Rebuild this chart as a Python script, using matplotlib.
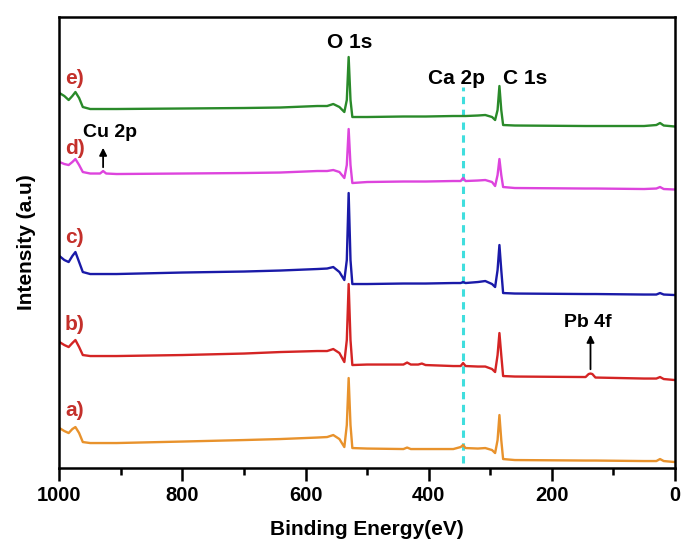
import matplotlib
matplotlib.use("Agg")
import matplotlib.pyplot as plt

plt.rcParams['font.family'] = ['Liberation Sans', 'DejaVu Sans']
plt.rcParams['font.weight'] = 'bold'

# binding energy grid (eV), shared by all spectra
energy = [1000, 992, 985, 979, 974, 968, 962, 950, 934, 929, 924, 907, 800, 700,
          641, 581, 565, 555, 545, 537, 533, 530, 527, 524, 500, 441, 435, 429,
          417, 411, 405, 360, 348, 344, 340, 320, 308, 297, 292, 288, 285, 282,
          279, 260, 145, 140, 137, 134, 129, 50, 30, 24, 18, 0]

# intensities (a.u., already vertically offset as in the figure)
int_a = [40, 37, 35, 39, 41, 35, 26, 25, 25, 25, 25, 25, 26.5, 28,
         29, 30.5, 31, 33, 29, 21, 43, 90, 43, 20, 19.5, 19, 20.5, 19,
         19, 19, 19, 19, 21, 23, 20, 19.5, 20, 18, 15, 28, 53, 28,
         9, 8, 7.5, 7.5, 7.5, 7.5, 7.5, 7, 7, 9, 7, 6]
int_b = [126, 123, 121, 125, 128, 121, 113, 112, 112, 112, 112, 112, 113, 114.5,
         116, 117, 117, 119, 115, 106, 128, 184, 128, 103, 103.5, 103.5, 105.5, 103.5,
         103.5, 104.5, 103, 102, 102, 105, 102, 101.5, 101.5, 99, 96, 113, 135, 113,
         92, 91.5, 91, 94, 94.5, 94, 90.5, 89.5, 89.5, 91, 89, 88]
int_c = [212, 208, 206, 212, 216, 206, 196, 194, 194, 194, 194, 194, 195.5, 196.5,
         197.5, 199, 199.5, 201, 196, 188, 208, 275, 208, 184, 184, 184.5, 184.5, 184.5,
         184.5, 184.5, 184.5, 185, 185, 186, 185, 186, 187, 184, 181, 198, 223, 198,
         175, 174.5, 174, 174, 174, 174, 174, 173.5, 173.5, 175, 173.5, 173]
int_d = [306, 304, 303, 306, 309, 303, 296, 294.5, 294.5, 297, 294.5, 294, 294.5, 295,
         295.5, 297, 297, 298, 296, 290, 303, 339, 303, 285, 286, 286.5, 286.5, 286.5,
         286.5, 286.5, 286.5, 287, 287, 290, 287, 287.5, 288, 286, 282, 293, 309, 293,
         281, 280, 279.5, 279.5, 279.5, 279.5, 279.5, 279, 279.5, 281, 279, 278.5]
int_e = [375, 372, 368, 372, 376, 370, 361, 359, 359, 359, 359, 359, 359.5, 360,
         360.5, 362, 362, 364, 361, 356, 368, 411, 368, 351, 351, 351.5, 351.5, 351.5,
         351.5, 351.5, 351.5, 352, 352, 352, 352, 352.5, 353, 351, 348, 358, 382, 358,
         343, 342.5, 342, 342, 342, 342, 342, 342, 343, 345, 342.5, 341.5]

sample_labels = ['a)', 'b)', 'c)', 'd)', 'e)']
colors = ['#e8922c', '#d42424', '#1a1aa8', '#dd44dd', '#2a8a2a']
label_y = [58, 144, 231, 320, 390]

ca_2p = 344

fig = plt.figure(figsize=(6.83, 5.5), dpi=100)
ax = fig.add_axes([0.087, 0.149, 0.901, 0.821])

for ys, c in zip([int_a, int_b, int_c, int_d, int_e], colors):
    ax.plot(energy, ys, color=c, lw=1.7)

ax.plot([ca_2p, ca_2p], [5, 381], color='#40dede', lw=2.2,
        linestyle=(0, (2.4, 1.8)), zorder=1)

for lab, y in zip(sample_labels, label_y):
    ax.text(975, y, lab, color='#c4302b', fontsize=15, fontweight='bold',
            ha='center', va='center')

ax.text(528, 426, 'O 1s', fontsize=15, ha='center', va='center')
ax.text(354, 390, 'Ca 2p', fontsize=15, ha='center', va='center')
ax.text(243, 390, 'C 1s', fontsize=15, ha='center', va='center')
ax.text(918, 336, 'Cu 2p', fontsize=14, ha='center', va='center')
ax.text(141, 146, 'Pb 4f', fontsize=14, ha='center', va='center')

ax.annotate('', xy=(929, 323), xytext=(929, 298),
            arrowprops=dict(arrowstyle='-|>', color='black', lw=1.3,
                            mutation_scale=11))
ax.annotate('', xy=(137, 136), xytext=(137, 96),
            arrowprops=dict(arrowstyle='-|>', color='black', lw=1.3,
                            mutation_scale=11))

ax.set_xlim(1000, 0)
ax.set_ylim(0, 451.5)
ax.set_xticks([1000, 800, 600, 400, 200, 0])
ax.set_xticks([900, 700, 500, 300, 100], minor=True)
ax.set_yticks([])
ax.tick_params(axis='x', which='major', direction='out', length=9, width=1.8,
               labelsize=14.5, pad=4)
ax.tick_params(axis='x', which='minor', direction='out', length=5, width=1.8)
for s in ax.spines.values():
    s.set_linewidth(1.8)

ax.set_xlabel('Binding Energy(eV)', fontsize=15, fontweight='bold', labelpad=11)
ax.set_ylabel('Intensity (a.u)', fontsize=15, fontweight='bold', labelpad=17)

fig.savefig('out.png', dpi=100)
